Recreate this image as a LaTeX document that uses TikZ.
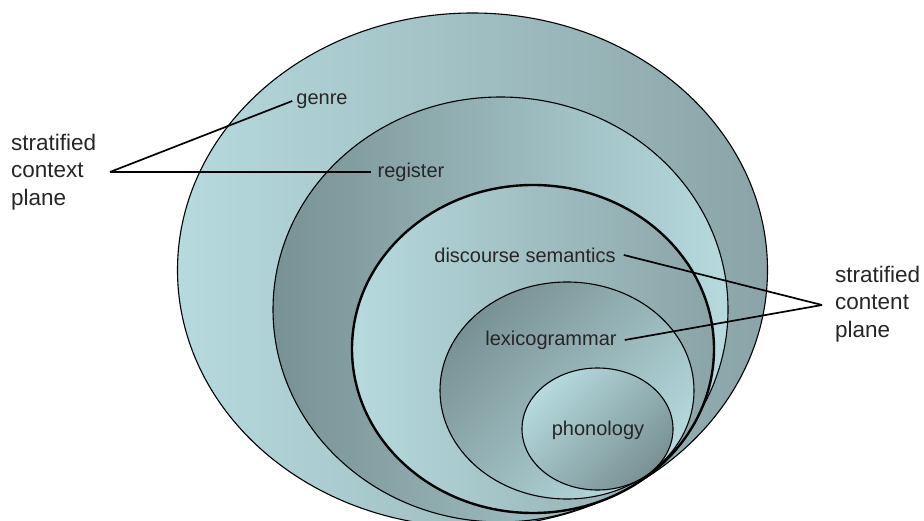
\documentclass[tikz,border=0pt]{standalone}
\usepackage{fontspec}
\setmainfont{Liberation Sans}
\definecolor{lt}{RGB}{182,218,222}
\definecolor{dk}{RGB}{120,145,148}
\definecolor{md}{RGB}{138,164,167}
\begin{document}
\begin{tikzpicture}[x=1pt,y=-1pt,
  ring/.style={draw=black, line width=1.1pt},
  thickring/.style={draw=black, line width=2.4pt},
  lbl/.style={font=\fontsize{20}{24}\selectfont, inner sep=0pt, text=black!85},
  side/.style={font=\fontsize{22.5}{27.5}\selectfont, align=left, inner sep=0pt, anchor=west, text=black!85},
  conn/.style={draw=black, line width=1.7pt}]
\useasboundingbox (0,0) rectangle (924,521);
% ellipses
\shadedraw[ring, left color=lt, right color=md] (472.5,270) ellipse [x radius=295pt, y radius=257pt];
\shadedraw[ring, left color=dk, right color=lt] (500.5,309.5) ellipse [x radius=227.5pt, y radius=212.5pt];
\shadedraw[thickring, left color=lt, right color=md] (533,349) ellipse [x radius=181pt, y radius=164pt];
\shadedraw[ring, top color=dk, bottom color=lt, shading angle=45] (567,390.5) ellipse [x radius=127pt, y radius=108.5pt];
\shadedraw[ring, top color=lt, bottom color=dk, shading angle=45] (597.5,429) ellipse [x radius=75.5pt, y radius=61pt];
% labels
\node[lbl] (genre) at (322,101) {genre};
\node[lbl] (register) at (411,172) {register};
\node[lbl] (disc) at (525,255) {discourse semantics};
\node[lbl] (lexi) at (551,340) {lexicogrammar};
\node[lbl] (phon) at (598,430) {phonology};
\node[side] (ctx) at (11,172) {stratified\\context\\plane};
\node[side] (cnt) at (835,304) {stratified\\content\\plane};
% connectors
\coordinate (cl) at (110,172);
\coordinate (cr) at (822,305);
\draw[conn] (cl) -- ([xshift=-4pt]genre.west);
\draw[conn] (cl) -- ([xshift=-6pt]register.west);
\draw[conn] ([xshift=8pt]disc.east) -- (cr);
\draw[conn] ([xshift=8pt]lexi.east) -- (cr);
\end{tikzpicture}
\end{document}
